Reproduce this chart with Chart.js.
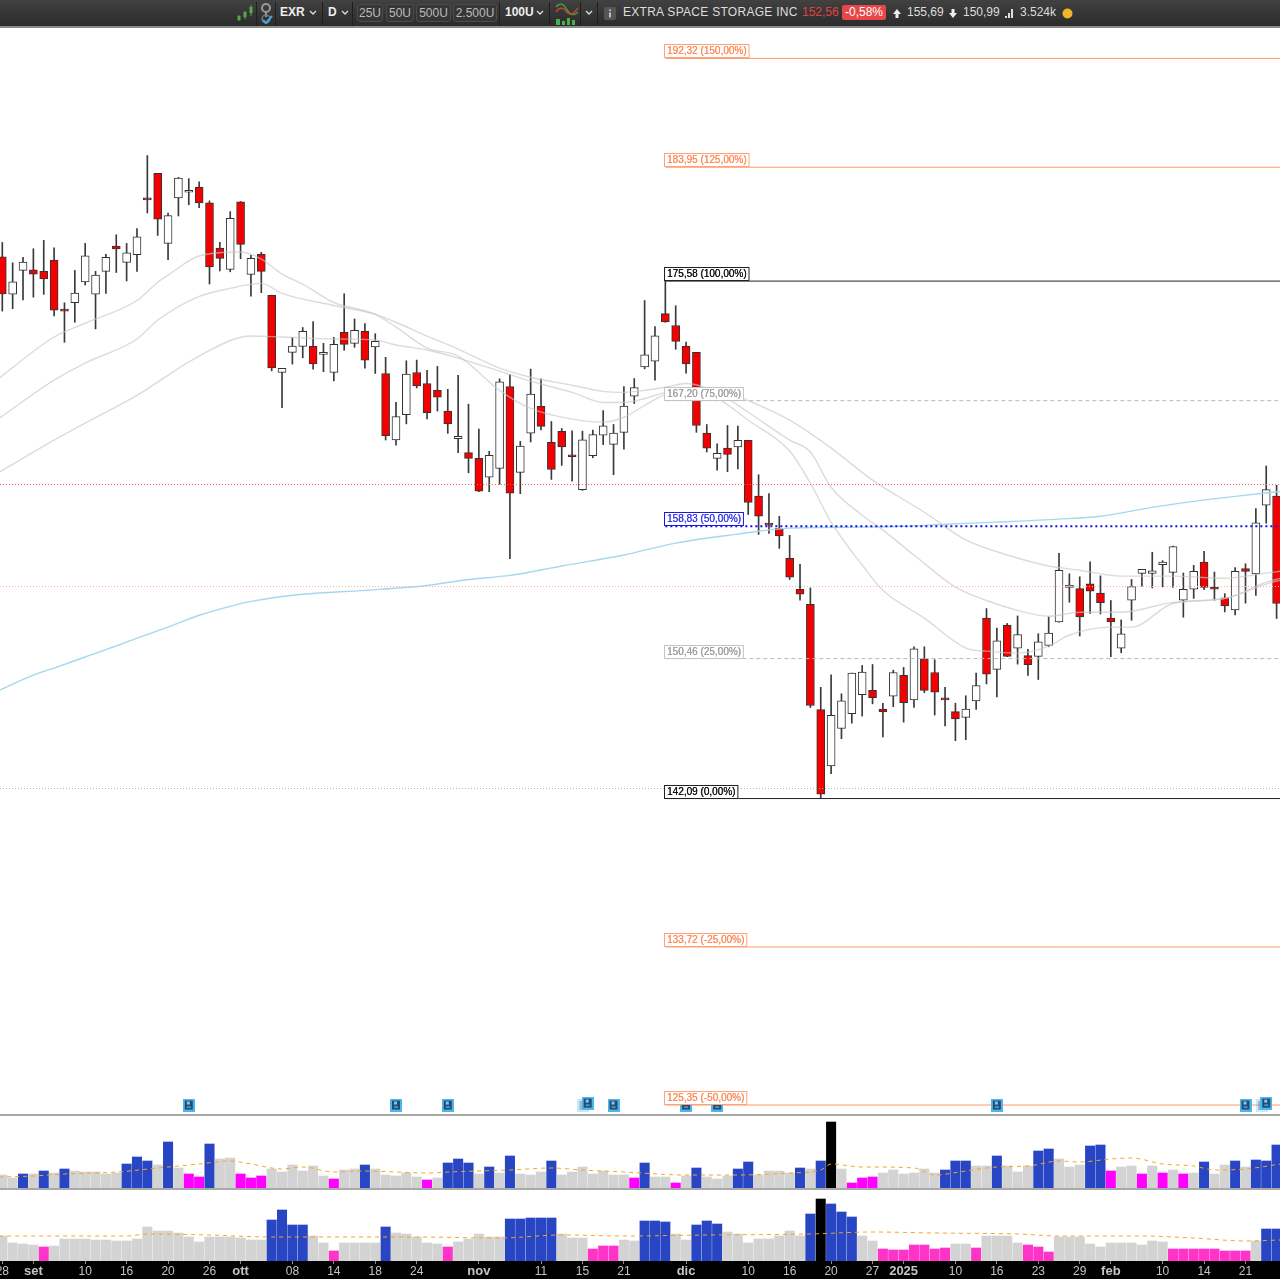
<!DOCTYPE html>
<html>
<head>
<meta charset="utf-8">
<title>EXR</title>
<script src="https://cdn.jsdelivr.net/npm/chart.js@4"></script>
<style>
  html, body { margin: 0; padding: 0; background: #fff; }
  body { width: 1280px; height: 1280px; position: relative; overflow: hidden; font-family: "Liberation Sans", sans-serif; }
  canvas { position: absolute; left: 0; }
  #bar { position: absolute; left: 0; top: 0; width: 1280px; height: 26px; background: linear-gradient(#414141, #2b2b2b); border-bottom: 2px solid #8a8a8a; box-sizing: content-box; color: #ddd; font-size: 12px; }
  #bar span, #bar svg, #bar i { position: absolute; }
  #bar span { top: 5px; white-space: nowrap; }
  #bar .b { font-weight: bold; color: #eee; }
  #bar .u { top: 4px; height: 16px; line-height: 16px; border: 1px solid #4c4c4c; border-radius: 3px; text-align: center; color: #bbb; background: #363636; }
  #bar .sep { top: 2px; width: 1px; height: 24px; background: #1f1f1f; }
  .rule { position: absolute; left: 0; width: 1280px; height: 2px; background: #a9a9a9; }
  #band { position: absolute; left: 0; top: 1261px; width: 1280px; height: 18px; background: #000; }
</style>
</head>
<body>
<div id="bar">
  <svg style="left:236px;top:4px" width="18" height="18" viewBox="0 0 18 18"><path d="M3 11v6M9 7v8M15 1v11" stroke="#5aa84a" stroke-width="1"/><rect x="1.5" y="12" width="3" height="4" fill="#5aa84a"/><rect x="7.5" y="8" width="3" height="5" fill="#5aa84a"/><rect x="13.5" y="3" width="3" height="6" fill="#5aa84a"/></svg>
  <svg style="left:260px;top:2px" width="14" height="24" viewBox="0 0 14 24"><circle cx="6" cy="6" r="4" fill="none" stroke="#999" stroke-width="2"/><path d="M6 10v5" stroke="#999" stroke-width="2"/><circle cx="6" cy="17" r="4" fill="none" stroke="#777" stroke-width="1.5"/><path d="M3 18l3 3 6-7" fill="none" stroke="#3aa9e6" stroke-width="2"/></svg>
  <i class="sep" style="left:256px"></i><i class="sep" style="left:275px"></i>
  <span class="b" style="left:280px">EXR</span>
  <svg style="left:309px;top:10px" width="8" height="6"><path d="M1 1l3 3 3-3" fill="none" stroke="#ddd" stroke-width="1.3"/></svg>
  <i class="sep" style="left:322px"></i>
  <span class="b" style="left:328px">D</span>
  <svg style="left:341px;top:10px" width="8" height="6"><path d="M1 1l3 3 3-3" fill="none" stroke="#ddd" stroke-width="1.3"/></svg>
  <i class="sep" style="left:352px"></i>
  <span class="u" style="left:357px;width:24px">25U</span>
  <span class="u" style="left:386px;width:26px">50U</span>
  <span class="u" style="left:416px;width:33px">500U</span>
  <span class="u" style="left:453px;width:42px">2.500U</span>
  <i class="sep" style="left:499px"></i>
  <span class="b" style="left:505px">100U</span>
  <svg style="left:536px;top:10px" width="8" height="6"><path d="M1 1l3 3 3-3" fill="none" stroke="#ddd" stroke-width="1.3"/></svg>
  <i class="sep" style="left:549px"></i>
  <svg style="left:555px;top:2px" width="24" height="23" viewBox="0 0 24 23"><path d="M1 5C6 -1 9 3 12 8s7 6 11 2" fill="none" stroke="#3f9e3f" stroke-width="1.6"/><path d="M1 10c4-6 8-4 11 0s7 2 11-4" fill="none" stroke="#c84040" stroke-width="1.4"/><path d="M1 17h4v6H1zM7 19h3v4H7zM12 16h3v7h-3zM17 18h3v5h-3z" fill="#46b04a"/></svg>
  <i class="sep" style="left:580px"></i>
  <svg style="left:585px;top:10px" width="8" height="6"><path d="M1 1l3 3 3-3" fill="none" stroke="#ddd" stroke-width="1.3"/></svg>
  <i class="sep" style="left:597px"></i>
  <svg style="left:604px;top:7px" width="12" height="13"><rect width="12" height="13" rx="2" fill="#555"/><path d="M6 2.5v1.5M6 5.5v5" stroke="#ddd" stroke-width="1.6"/></svg>
  <span style="left:623px;letter-spacing:.28px">EXTRA SPACE STORAGE INC</span>
  <span class="b" style="left:802px;color:#e0433f;font-weight:normal">152,56</span>
  <span style="left:842px;top:5px;width:44px;height:15px;line-height:15px;text-align:center;background:#e8474a;border-radius:2px;color:#fff">-0,58%</span>
  <svg style="left:892px;top:8px" width="10" height="11"><path d="M5 1L1 6h2.5v4h3V6H9z" fill="#eee"/></svg>
  <span style="left:907px">155,69</span>
  <svg style="left:948px;top:8px" width="10" height="11"><path d="M5 10L1 5h2.5V1h3v4H9z" fill="#eee"/></svg>
  <span style="left:963px">150,99</span>
  <svg style="left:1005px;top:9px" width="9" height="9"><path d="M0 7h2v2H0zM3 4h2v5H3zM6 0h2v9H6z" fill="#ddd"/></svg>
  <span style="left:1020px">3.524k</span>
  <svg style="left:1062px;top:8px" width="11" height="11"><circle cx="5.5" cy="5.5" r="5" fill="#f0b429"/></svg>
</div>
<div id="band"></div>
<canvas id="main" width="1280" height="1087" style="top:28px"></canvas>
<div class="rule" style="top:1114px"></div>
<canvas id="vol1" width="1280" height="73" style="top:1115px"></canvas>
<div class="rule" style="top:1188px"></div>
<canvas id="vol2" width="1280" height="89" style="top:1190px"></canvas>
<script>
// EXR daily candles
const opens = [
  177.34,174.65,176.35,176.39,176.28,177.10,173.51,174.03,175.52,174.65,
  176.28,178.12,176.93,177.48,181.59,183.49,178.31,181.66,182.08,182.46,
  181.29,177.97,176.42,181.37,176.06,177.51,174.57,169.14,170.54,170.96,
  170.96,170.40,169.14,171.94,171.17,172.01,170.91,169.07,164.53,166.25,
  169.14,168.38,167.91,166.49,164.62,163.68,163.30,162.05,162.63,168.17,
  162.37,165.00,166.81,164.38,165.11,163.46,161.23,163.48,164.86,164.24,
  165.05,167.51,169.53,169.93,173.26,172.42,170.98,170.54,165.00,163.30,
  163.99,164.06,164.51,160.80,158.99,158.69,156.76,154.79,153.83,147.35,
  144.00,146.22,147.11,148.25,148.52,147.38,148.17,149.43,147.94,150.45,
  149.61,148.01,147.23,146.89,147.88,152.97,149.80,152.52,151.11,150.64,
  150.60,151.28,152.74,154.90,154.83,155.13,154.55,152.97,151.11,154.10,
  155.80,155.80,156.35,155.86,154.10,154.79,156.52,154.92,154.25,153.48,
  156.11,155.76,160.21,160.80];
const closes = [
  174.67,175.52,176.95,176.08,175.74,173.51,173.44,174.72,177.41,176.01,
  177.29,177.90,177.63,178.79,181.51,180.08,180.35,183.13,182.16,181.29,
  176.61,177.22,180.15,178.24,177.22,176.28,169.46,169.42,170.98,172.01,
  169.74,170.54,171.10,171.10,172.08,170.00,171.31,164.82,166.12,169.02,
  168.21,166.39,167.44,165.62,164.78,163.30,161.13,163.50,168.49,160.99,
  164.13,167.65,165.45,162.57,164.06,163.41,164.55,164.89,165.49,165.00,
  166.83,168.10,170.37,171.70,172.68,171.31,169.74,165.51,163.99,163.64,
  163.57,164.51,160.38,159.48,158.90,158.21,155.56,154.48,147.60,142.34,
  147.01,147.88,149.57,149.63,148.07,147.21,149.61,147.78,151.07,148.52,
  148.41,147.94,146.79,147.38,148.81,149.51,151.56,150.60,151.94,150.08,
  151.50,152.04,155.99,155.06,153.05,154.66,153.94,152.74,152.00,154.96,
  156.05,155.96,156.52,157.51,154.79,155.92,154.90,154.79,153.73,155.92,
  155.92,159.05,161.23,153.89];
const highs = [
  178.38,176.90,177.29,177.92,178.53,177.99,174.03,176.35,178.31,176.28,
  177.51,178.94,178.31,179.40,184.83,183.49,180.54,183.19,183.09,182.86,
  181.44,178.38,180.64,181.39,177.44,177.66,174.57,169.42,171.59,172.28,
  172.70,171.17,171.59,174.67,172.88,172.56,171.84,170.19,167.08,169.95,
  170.00,169.28,169.56,167.98,168.95,166.96,165.27,163.77,168.70,169.00,
  164.44,169.37,168.70,165.78,165.31,165.15,165.13,165.20,166.52,165.58,
  168.17,168.72,174.19,172.35,175.58,173.82,171.26,170.54,165.58,164.28,
  165.51,165.47,164.51,162.21,160.96,159.48,158.24,156.38,154.87,148.70,
  149.46,148.31,149.57,150.04,150.10,147.74,149.75,149.92,151.19,151.19,
  150.39,148.70,147.74,148.19,149.57,153.57,152.35,152.64,153.11,151.03,
  152.00,153.05,157.08,155.77,155.58,156.54,155.64,154.08,152.86,155.41,
  156.05,157.15,156.61,157.55,155.82,156.31,157.21,155.88,154.51,156.17,
  156.41,159.98,162.79,161.51];
const lows = [
  173.44,173.61,174.24,174.43,174.63,173.09,171.24,172.65,175.30,172.18,
  174.70,176.20,175.59,176.28,180.54,178.89,177.12,180.32,181.15,180.93,
  175.37,176.32,176.25,177.19,174.50,174.75,169.25,166.72,169.72,170.16,
  169.37,169.19,168.56,170.68,170.89,169.44,169.07,164.53,164.19,165.62,
  168.07,165.96,166.49,164.98,163.68,162.34,161.09,161.09,161.58,156.74,
  160.96,164.40,165.22,161.90,162.83,161.78,161.18,163.34,164.22,162.21,
  163.91,167.01,169.39,168.61,172.65,170.75,169.09,165.05,163.73,162.52,
  162.41,162.59,159.59,158.30,158.37,157.40,155.41,154.10,147.48,142.09,
  143.55,145.61,146.54,146.97,147.70,145.72,147.53,146.60,147.48,148.38,
  147.03,146.38,145.49,145.55,147.37,148.91,148.12,150.58,150.12,149.43,
  149.18,151.19,152.72,153.97,151.86,153.26,153.23,150.58,150.82,152.84,
  154.98,154.87,154.94,154.90,153.03,154.21,154.77,154.10,153.36,153.17,
  153.91,154.40,159.03,152.95];

// moving averages, read at the bends
const maFastIdx = [-0.3,5,8,13,15,16,19,23,25,27,29,32,36,38,41,44,48,51,55,58,60,62,64,66,69,72,76,78,80,83,85,89,93,95,98,101,103,107,109,113,118,122,123.4];
const maFast = [168.75,171.61,172.58,174.19,175.50,176.01,177.39,177.68,177.17,176.08,175.36,174.05,173.21,172.31,170.84,170.28,167.91,166.67,165.94,165.74,166.07,166.87,167.63,167.91,167.35,165.87,163.79,161.65,159.10,156.33,154.72,152.97,151.11,150.92,150.80,151.23,151.92,152.41,152.41,153.89,154.21,155.24,155.49];
const maMidIdx = [-0.3,5,8,13,15,19,22,25,27,32,36,38,41,44,48,51,55,58,60,62,64,66,69,72,76,78,80,83,85,88,92,95,98,101,104,108,113,118,122,123.4];
const maMid = [166.00,168.61,169.79,171.47,172.79,174.48,175.06,175.42,174.70,173.84,173.21,172.65,171.68,170.77,169.44,168.81,168.26,167.84,167.77,167.91,168.12,168.38,167.77,166.41,164.53,163.73,161.38,159.55,158.58,156.97,154.92,154.08,153.46,153.09,153.34,153.34,153.96,154.21,155.11,155.37];
const maSlowIdx = [-0.3,5,8,13,19,24,27,32,36,38,41,44,48,51,55,58,60,62,64,66,69,72,76,80,84,89,93,98,101,104,108,113,118,122,123.4];
const maSlow = [162.39,164.53,165.67,167.56,170.28,171.68,171.61,171.47,171.40,171.05,170.70,170.14,169.23,168.54,167.77,167.08,167.08,167.35,167.77,168.05,168.05,167.21,165.87,163.99,161.85,159.74,157.94,156.78,156.27,156.00,155.62,155.62,155.49,155.81,155.94];
const maLongIdx = [-0.3,3,5,8,11,13,16,19,22,24,29,35,41,45,49,54,60,65,71,76,83,87,91,96,102,106,111,115,119,123.4];
const maLong = [148.52,149.45,149.88,150.56,151.24,151.73,152.41,153.15,153.71,154.02,154.47,154.72,155.03,155.41,155.67,156.27,156.97,157.74,158.32,158.71,158.77,158.83,158.96,159.10,159.29,159.48,160.06,160.45,160.78,161.11];

// projection levels
const fibPrices = [192.32,183.95,175.58,167.20,158.83,150.46,142.09,133.72,125.35];
const fibPercents = ['150,00%','125,00%','100,00%','75,00%','50,00%','25,00%','0,00%','-25,00%','-50,00%'];
const fibStartIdx = 64;
const alertLevels = [161.56,154.96,142.67];
const newsIdx = [18,38,43,56.5,59,66,69,96,120,122];
const newsPrices = [125.35,125.35,125.35,125.45,125.35,125.35,125.35,125.35,125.35,125.45];
const newsEchoIdx = [56.1,121.6];
const newsEchoPrices = [125.33,125.33];

// volume panels (relative units); type 0 normal, 1 high, 2 low, 3 peak
const vol1 = [
  13,10,14,14,17,15,19,17,16,16, 14,15,24,31,27,23,46,20,14,11,
  44,29,30,14,10,12,19,16,23,17, 22,12,9,18,19,23,19,13,12,15,
  11,8,10,25,29,25,14,21,15,32, 14,13,16,27,13,16,21,14,17,13,
  13,10,25,11,11,5,12,20,11,9, 12,19,26,13,17,17,15,20,19,27,
  66,19,5,10,11,15,18,14,15,19, 15,18,27,27,22,22,32,22,16,22,
  37,39,29,21,23,42,43,17,21,22, 14,22,15,18,14,15,26,14,23,27,
  21,28,27,43];
const vol1Type = [
  0,0,1,0,1,0,1,0,0,0, 0,0,1,1,1,0,1,0,2,2,
  1,0,0,2,2,2,0,0,0,0, 0,0,2,0,0,1,0,0,0,0,
  0,2,0,1,1,1,0,1,0,1, 0,0,0,1,0,0,0,0,0,0,
  0,2,1,0,0,2,0,1,0,0, 0,1,1,0,0,0,0,1,0,1,
  3,0,2,2,2,0,0,0,0,0, 0,1,1,1,0,0,1,0,0,0,
  1,1,0,0,0,1,1,2,0,0, 2,0,2,0,2,0,1,0,0,1,
  0,1,1,1];
const vol1AvgIdx = [-0.3,3,6,11,16,19,22,24,27,29,32,35,38,41,43,49,53,56,60,66,71,76,79,80,83,84,88,90,93,96,99,102,104,107,109,112,115,117,120,123.4];
const vol1Avg = [11,12,14,16,21,24,27,24,19,21,16,17,16,15,16,18,20,18,16,13,13,15,18,24,21,21,20,13,17,21,22,27,26,29,30,24,22,18,19,24];
const vol2 = [
  25,18,17,16,14,15,22,22,22,21, 21,20,20,22,34,30,30,28,24,19,
  24,24,24,23,21,21,41,51,36,36, 25,18,10,18,18,18,18,34,28,27,
  24,18,17,14,19,22,27,24,24,42, 42,43,43,43,27,23,23,12,15,15,
  21,20,40,40,39,27,21,36,40,37, 29,27,18,22,22,25,30,25,47,62,
  57,49,44,25,20,12,11,11,16,16, 12,13,17,17,13,25,25,25,18,16,
  14,9,24,24,24,17,14,18,18,18, 16,20,19,12,12,12,12,12,10,10,
  10,20,32,32];
const vol2Type = [
  0,0,0,0,2,0,0,0,0,0, 0,0,0,0,0,0,0,0,0,0,
  0,0,0,0,0,0,1,1,1,1, 0,0,2,0,0,0,0,1,0,0,
  0,0,0,2,0,0,0,0,0,1, 1,1,1,1,0,0,0,2,2,2,
  0,0,1,1,1,0,0,1,1,1, 0,0,0,0,0,0,0,0,1,3,
  1,1,1,0,0,2,2,2,2,2, 2,2,0,0,2,0,0,0,0,2,
  2,2,0,0,0,0,0,0,0,0, 0,0,0,2,2,2,2,2,2,2,
  2,0,1,1];
const vol2AvgIdx = [-0.3,12,14,20,26,34,40,48,54,60,68,78,84,90,98,102,110,115,120,123.4];
const vol2Avg = [25,25,27,26,24,24,24,23,26,25,26,27,29,28,27,25,25,23,20,21];

// time axis
const tickIdx = [0,3,8,12,16,20,23,28,32,36,40,46,52,56,60,66,72,76,80,84,87,92,96,100,104,107,112,116,120];
const tickText = ['28','set','10','16','20','26','ott','08','14','18','24','nov','11','15','21','dic','10','16','20','27','2025','10','16','23','29','feb','10','14','21'];
const majorTicks = ['set','ott','nov','dic','2025','feb'];

const xMin = -0.222, xMax = 123.33;
const yTop = 194.73, yBottom = 124.84;
const volColors = ['#d3d3d3', '#2846c4', '#ff00ff', '#000000'];
const vol2Colors = ['#d3d3d3', '#2846c4', '#ff33c8', '#000000'];

Chart.defaults.animation = false;
Chart.defaults.font.family = '"Liberation Sans", sans-serif';

const pairs = (idx, vals) => idx.map((x, i) => ({ x, y: vals[i] }));
const isUp = i => closes[i] >= opens[i];

const maLine = (idx, vals, color, width) => ({
  type: 'line', data: pairs(idx, vals), borderColor: color, borderWidth: width,
  pointRadius: 0, cubicInterpolationMode: 'monotone', order: 3,
});

function levelLine(price, from, color, dash, width) {
  return {
    type: 'line', data: [{ x: from, y: price }, { x: 124, y: price }],
    borderColor: color, borderDash: dash, borderWidth: width, pointRadius: 0, order: 2,
  };
}

function fibStyle(i) {
  if (i === 2 || i === 6) return { line: '#222222', text: '#111111', box: '#222222', dash: [], width: 1 };
  if (i === 3 || i === 5) return { line: '#b8b8b8', text: '#a0a0a0', box: '#c4c4c4', dash: [4, 3], width: 1 };
  if (i === 4) return { line: '#1010e8', text: '#3a3ae8', box: '#1a1ae8', dash: [2, 3], width: 2 };
  return { line: '#ff9a66', text: '#ff8c5a', box: '#ffa27a', dash: [], width: 1 };
}

// small document marker for the news points
function docIcon(alpha) {
  const c = document.createElement('canvas');
  c.width = 12;
  c.height = 13;
  const g = c.getContext('2d');
  g.globalAlpha = alpha;
  g.fillStyle = '#4db6ec';
  g.fillRect(0, 0, 12, 13);
  g.fillStyle = '#1d4f7a';
  g.fillRect(2, 2, 8, 9);
  g.fillStyle = '#8fc4e0';
  g.fillRect(4, 3, 3, 3);
  g.fillRect(4, 8, 4, 1);
  return c;
}

// price tags sitting on the left end of each level
const fibTags = {
  id: 'fibTags',
  afterDatasetsDraw(chart) {
    const { ctx, scales } = chart;
    ctx.save();
    ctx.font = '10px "Liberation Sans", sans-serif';
    ctx.textBaseline = 'middle';
    fibPrices.forEach((p, i) => {
      const s = fibStyle(i);
      const y = Math.round(scales.y.getPixelForValue(p));
      const label = p.toFixed(2).replace('.', ',') + ' (' + fibPercents[i] + ')';
      const left = Math.round(scales.x.getPixelForValue(fibStartIdx)) - 1;
      const w = ctx.measureText(label).width + 6;
      ctx.fillStyle = '#fff';
      ctx.fillRect(left, y - 14, w, 14);
      ctx.strokeStyle = s.box;
      ctx.lineWidth = 1;
      ctx.strokeRect(left + 0.5, y - 13.5, w - 1, 13);
      ctx.fillStyle = s.text;
      ctx.fillText(label, left + 3, y - 6.5);
      ctx.fillText(label, left + 3.3, y - 6.5);
    });
    ctx.restore();
  },
};

new Chart(document.getElementById('main'), {
  type: 'bar',
  plugins: [fibTags],
  data: {
    datasets: [
      {
        data: highs.map((h, i) => ({ x: i, y: [lows[i], h] })),
        backgroundColor: '#3a3a3a', barThickness: 1, grouped: false, order: 5,
      },
      {
        data: opens.map((o, i) => ({ x: i, y: [o, closes[i]] })),
        backgroundColor: opens.map((o, i) => (isUp(i) ? '#ffffff' : '#f40000')),
        borderColor: '#333333', borderWidth: 1, borderSkipped: false,
        barThickness: 8, minBarLength: 2, grouped: false, order: 4,
      },
      maLine(maFastIdx, maFast, 'rgba(200,200,200,0.65)', 1.4),
      maLine(maMidIdx, maMid, 'rgba(200,200,200,0.65)', 1.4),
      maLine(maSlowIdx, maSlow, 'rgba(200,200,200,0.65)', 1.4),
      maLine(maLongIdx, maLong, '#a5d8ef', 1.4),
      levelLine(alertLevels[0], xMin, '#ff5a5a', [1, 2], 1),
      levelLine(alertLevels[1], xMin, '#ffae8a', [1, 2], 1),
      levelLine(alertLevels[2], xMin, '#8fd08f', [1, 2], 1),
      ...fibPrices.map((p, i) => {
        const s = fibStyle(i);
        return levelLine(p, fibStartIdx, s.line, s.dash, s.width);
      }),
      {
        type: 'line', data: pairs(newsEchoIdx, newsEchoPrices), showLine: false,
        pointStyle: docIcon(0.3), order: 1,
      },
      {
        type: 'line', data: pairs(newsIdx, newsPrices), showLine: false,
        pointStyle: docIcon(1), order: 0,
      },
    ],
  },
  options: {
    responsive: false,
    layout: { padding: 0, autoPadding: false },
    plugins: { legend: { display: false }, tooltip: { enabled: false } },
    scales: {
      x: { type: 'linear', offset: false, min: xMin, max: xMax, display: false },
      y: { type: 'logarithmic', min: yBottom, max: yTop, bounds: 'data', display: false },
    },
  },
});

function volumeChart(id, values, types, colors, avgIdx, avg, yMax, withAxis) {
  return new Chart(document.getElementById(id), {
    type: 'bar',
    data: {
      datasets: [
        {
          type: 'line', data: pairs(avgIdx, avg), borderColor: '#f5a623', borderWidth: 1,
          borderDash: [4, 4], pointRadius: 0, cubicInterpolationMode: 'monotone', order: 1,
        },
        {
          data: values.map((v, i) => ({ x: i, y: v })),
          backgroundColor: types.map(t => colors[t]),
          barThickness: 9.4, grouped: false, order: 2,
        },
      ],
    },
    options: {
      responsive: false,
      layout: { padding: 0, autoPadding: false },
      plugins: { legend: { display: false }, tooltip: { enabled: false } },
      scales: {
        x: withAxis ? {
          type: 'linear', offset: false, min: xMin, max: xMax,
          border: { display: false },
          grid: { offset: false, drawOnChartArea: false, color: '#8a8a8a', tickLength: 3 },
          afterBuildTicks: s => { s.ticks = tickIdx.map(value => ({ value })); },
          afterFit: s => { s.height = 18; s.paddingLeft = 0; s.paddingRight = 0; },
          ticks: {
            autoSkip: false, maxRotation: 0, padding: 0, color: '#c4c4c4',
            callback: v => tickText[tickIdx.indexOf(v)],
            font: c => (majorTicks.includes(tickText[c.index])
              ? { size: 13, weight: 'bold' } : { size: 12, weight: 'normal' }),
          },
        } : { type: 'linear', offset: false, min: xMin, max: xMax, display: false },
        y: { min: 0, max: yMax, display: false },
      },
    },
  });
}

volumeChart('vol1', vol1, vol1Type, volColors, vol1AvgIdx, vol1Avg, 73, false);
volumeChart('vol2', vol2, vol2Type, vol2Colors, vol2AvgIdx, vol2Avg, 71, true);
</script>
</body>
</html>
